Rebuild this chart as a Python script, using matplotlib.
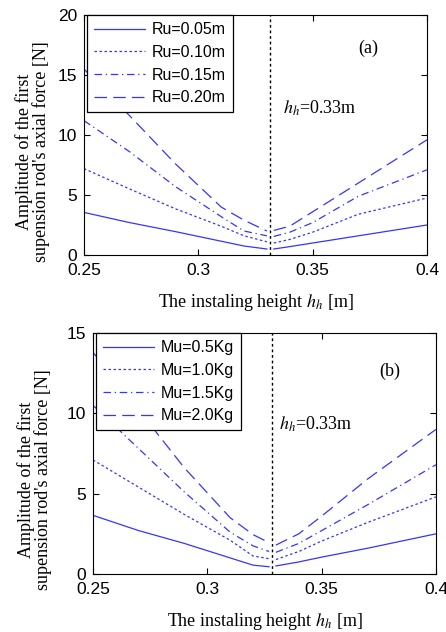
import numpy as np
import matplotlib
matplotlib.use("Agg")
import matplotlib.pyplot as plt

# panel (a): varying Ru
xa_left = [0.25, 0.27, 0.29, 0.31, 0.32, 0.330]
xa_right = [0.333, 0.34, 0.35, 0.37, 0.40]
a_labels = ["Ru=0.05m", "Ru=0.10m", "Ru=0.15m", "Ru=0.20m"]
a_left = [
    [3.55, 2.7, 1.95, 1.15, 0.75, 0.5],
    [7.2, 5.5, 3.85, 2.4, 1.6, 1.1],
    [11.2, 8.6, 5.7, 3.2, 2.0, 1.6],
    [15.5, 11.6, 7.6, 4.0, 2.9, 2.0],
]
a_right = [
    [0.5, 0.7, 1.0, 1.6, 2.5],
    [1.0, 1.3, 1.9, 3.4, 4.75],
    [1.55, 1.9, 2.7, 4.9, 7.1],
    [2.05, 2.4, 3.6, 6.0, 9.6],
]

# panel (b): varying Mu
xb_left = [0.25, 0.27, 0.29, 0.31, 0.32, 0.327]
xb_right = [0.330, 0.34, 0.35, 0.37, 0.40]
b_labels = ["Mu=0.5Kg", "Mu=1.0Kg", "Mu=1.5Kg", "Mu=2.0Kg"]
b_left = [
    [3.65, 2.7, 1.9, 1.0, 0.55, 0.45],
    [7.1, 5.4, 3.7, 2.1, 1.12, 0.95],
    [10.5, 7.8, 5.1, 2.6, 1.75, 1.4],
    [13.8, 10.2, 6.6, 3.5, 2.45, 1.95],
]
b_right = [
    [0.5, 0.75, 1.05, 1.6, 2.5],
    [0.9, 1.4, 2.05, 3.2, 4.8],
    [1.35, 1.9, 2.7, 4.3, 6.8],
    [1.8, 2.5, 3.6, 5.9, 9.0],
]

styles = ["-", (0, (2, 2)), (0, (6, 3, 1, 3)), (0, (10, 5))]
blue = "#3535ff"

plt.rcParams["font.family"] = "Liberation Sans"
plt.rcParams["xtick.direction"] = "in"
plt.rcParams["ytick.direction"] = "in"
plt.rcParams["mathtext.fontset"] = "stix"

fig = plt.figure(figsize=(4.46, 6.32), dpi=100)
axa = fig.add_axes([0.1883, 0.5965, 0.769, 0.3797])
axb = fig.add_axes([0.2085, 0.0918, 0.769, 0.3813])


def panel(ax, xl, xr, left, right, labels, vx, ymax, yticks, tag, tagpos, hpos, ylab_xy):
    for i in range(4):
        ax.plot(xl, left[i], color=blue, lw=0.9, ls=styles[i], label=labels[i])
        ax.plot(xr, right[i], color=blue, lw=0.9, ls=styles[i])
    ax.axvline(vx, color="black", lw=1.0, ls=(0, (2, 2)))
    ax.set_xlim(0.25, 0.4)
    ax.set_ylim(0, ymax)
    ax.set_xticks([0.25, 0.3, 0.35, 0.4])
    ax.set_xticklabels(["0.25", "0.3", "0.35", "0.4"])
    ax.set_yticks(yticks)
    ax.tick_params(top=True, right=True, labelsize=12.5, length=4, width=0.8)
    ax.tick_params(axis="x", pad=6)
    ax.tick_params(axis="y", pad=5)
    for s in ax.spines.values():
        s.set_linewidth(0.8)
    ax.text(tagpos[0], tagpos[1], tag, family="Liberation Serif", fontsize=13)
    ax.text(hpos[0], hpos[1], "$h_h$=0.33m", family="Liberation Serif",
            fontsize=13, va="center")
    ax.set_xlabel("The instaling height $h_h$ [m]", family="Liberation Serif",
                  fontsize=13, labelpad=10)
    ax.set_ylabel("Amplitude of the first\nsupension rod's axial force [N]",
                  family="Liberation Serif", fontsize=13, linespacing=0.95)
    ax.yaxis.set_label_coords(ylab_xy[0], ylab_xy[1])
    leg = ax.legend(loc="upper left", bbox_to_anchor=(0.008, 1.0),
                    borderaxespad=0, fancybox=False, framealpha=1,
                    edgecolor="black", fontsize=11.5, handlelength=3.2,
                    labelspacing=0.48, handletextpad=0.4, borderpad=0.45)
    leg.get_frame().set_linewidth(0.9)


panel(axa, xa_left, xa_right, a_left, a_right, a_labels, 0.3315, 20,
      [0, 5, 10, 15, 20], "(a)", (0.370, 16.8), (0.337, 12.2), (-0.099, 0.43))
panel(axb, xb_left, xb_right, b_left, b_right, b_labels, 0.3285, 15,
      [0, 5, 10, 15], "(b)", (0.375, 12.3), (0.3315, 9.3), (-0.12, 0.39))

fig.savefig("out.png", dpi=100)
